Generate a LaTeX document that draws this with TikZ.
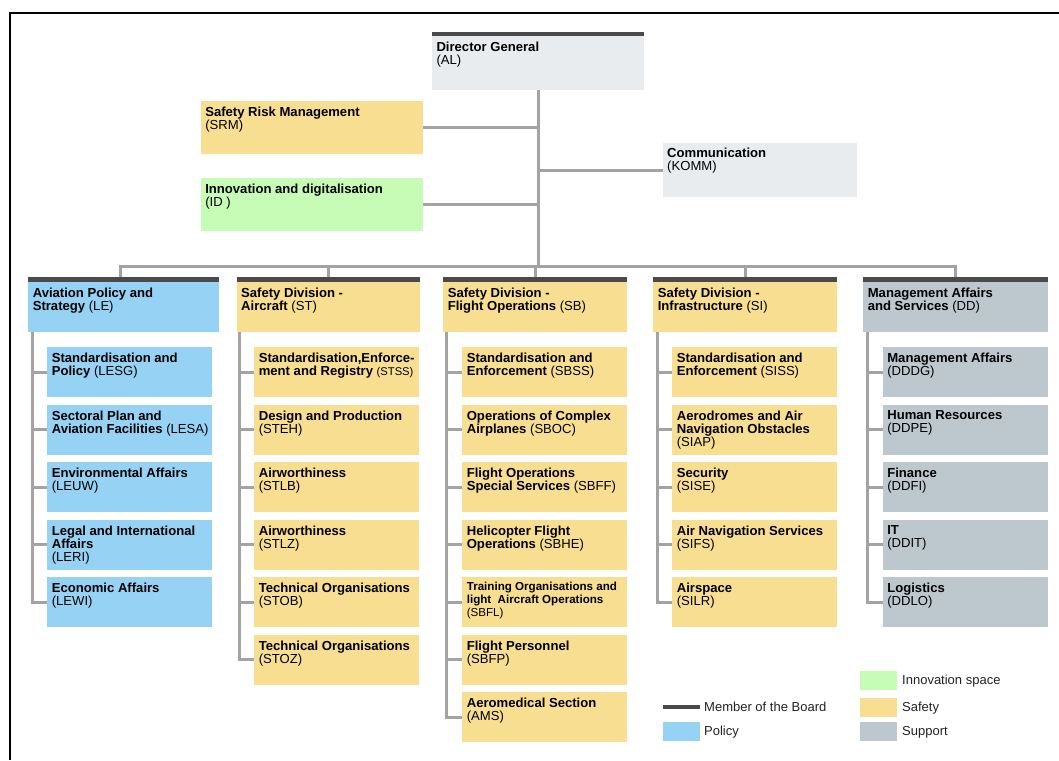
\documentclass[tikz,border=0pt]{standalone}
\usepackage{fontspec}
\setmainfont{Liberation Sans}
\definecolor{pol}{HTML}{95D2F3}
\definecolor{saf}{HTML}{F8DE90}
\definecolor{inn}{HTML}{C6FCB6}
\definecolor{sup}{HTML}{BDC8CE}
\definecolor{lgr}{HTML}{E9ECEF}
\definecolor{barc}{HTML}{4A4A4A}
\definecolor{conc}{HTML}{A3A3A3}
\definecolor{legt}{HTML}{222222}
\newcommand\fs{\fontsize{13.1}{13.2}\selectfont}
\newcommand\fsm{\fontsize{11.6}{13}\selectfont}
\newcommand\bxt[4]{\parbox[t][#2pt][t]{#1pt}{\raggedright\leftskip=4.5pt\vspace*{#3pt}#4}}
\tikzset{
  box/.style={anchor=north west, inner sep=0pt, outer sep=0pt, font=\fs},
  conn/.style={draw=conc, line width=3pt},
  swatch/.style={anchor=north west, inner sep=0pt, outer sep=0pt, minimum width=37pt, minimum height=19pt},
  legtext/.style={anchor=west, inner sep=0pt, font=\fontsize{13}{15}\selectfont, text=legt},
}
\newcommand\child[5]{\node[box,fill=#1] (#2) at (#3,#4) {\bxt{165}{50}{5.8}{#5}};}
\newcommand\head[5]{\node[box,fill=#1] (#2) at (#3,277.3) {\bxt{#4}{55}{11}{#5}};
  \fill[barc] (#2.north west) rectangle ([yshift=-5pt]#2.north east);}
\begin{document}
\begin{tikzpicture}[x=1pt,y=-1pt]
\useasboundingbox (0,0) rectangle (1059,760);
\draw[line width=2.3pt] (10,760) -- (10,13.3) -- (1058.5,13.3);

% top level
\node[box,fill=lgr] (dg) at (432,31.7) {\bxt{212}{58.3}{10}{\textbf{Director General}\\(AL)}};
\fill[barc] (dg.north west) rectangle ([yshift=-4.5pt]dg.north east);
\node[box,fill=saf] (srm) at (200.8,100.7) {\bxt{222.2}{53.3}{6.5}{\textbf{Safety Risk Management}\\(SRM)}};
\node[box,fill=inn] (id) at (200.8,177.7) {\bxt{222.2}{53}{6.5}{\textbf{Innovation and digitalisation}\\(ID )}};
\node[box,fill=lgr] (komm) at (662.7,143.3) {\bxt{193.8}{53.4}{5}{\textbf{Communication}\\(KOMM)}};

% headers
\head{pol}{le}{28.3}{191}{\textbf{Aviation Policy and}\\\textbf{Strategy} (LE)}
\head{saf}{st}{236.7}{183.3}{\textbf{Safety Division -}\\\textbf{Aircraft} (ST)}
\head{saf}{sb}{443.3}{183.4}{\textbf{Safety Division -}\\\textbf{Flight Operations} (SB)}
\head{saf}{si}{653.3}{183.4}{\textbf{Safety Division -}\\\textbf{Infrastructure} (SI)}
\head{sup}{dd}{863.3}{184.4}{\textbf{Management Affairs}\\\textbf{and Services} (DD)}

% LE children
\child{pol}{lesg}{47.3}{347.3}{\textbf{Standardisation and}\\\textbf{Policy} (LESG)}
\child{pol}{lesa}{47.3}{404.8}{\textbf{Sectoral Plan and}\\\textbf{Aviation Facilities} (LESA)}
\child{pol}{leuw}{47.3}{462.3}{\textbf{Environmental Affairs}\\(LEUW)}
\child{pol}{leri}{47.3}{519.8}{\textbf{Legal and International}\\\textbf{Affairs}\\(LERI)}
\child{pol}{lewi}{47.3}{577.3}{\textbf{Economic Affairs}\\(LEWI)}

% ST children
\child{saf}{stss}{254.3}{347.3}{\textbf{Standardisation,Enforce-}\\\textbf{ment and Registry} {\fontsize{11.2}{13}\selectfont(STSS)}}
\child{saf}{steh}{254.3}{404.8}{\textbf{Design and Production}\\(STEH)}
\child{saf}{stlb}{254.3}{462.3}{\textbf{Airworthiness}\\(STLB)}
\child{saf}{stlz}{254.3}{519.8}{\textbf{Airworthiness}\\(STLZ)}
\child{saf}{stob}{254.3}{577.3}{\textbf{Technical Organisations}\\(STOB)}
\child{saf}{stoz}{254.3}{634.8}{\textbf{Technical Organisations}\\(STOZ)}

% SB children
\child{saf}{sbss}{462.3}{347.3}{\textbf{Standardisation and}\\\textbf{Enforcement} (SBSS)}
\child{saf}{sboc}{462.3}{404.8}{\textbf{Operations of Complex}\\\textbf{Airplanes} (SBOC)}
\child{saf}{sbff}{462.3}{462.3}{\textbf{Flight Operations}\\\textbf{Special Services} (SBFF)}
\child{saf}{sbhe}{462.3}{519.8}{\textbf{Helicopter Flight}\\\textbf{Operations} (SBHE)}
\node[box,fill=saf] (sbfl) at (462.3,577.3) {\bxt{165}{50}{4.5}{\fsm\textbf{Training Organisations and}\\\textbf{light\ \ Aircraft Operations}\\(SBFL)}};
\child{saf}{sbfp}{462.3}{634.8}{\textbf{Flight Personnel}\\(SBFP)}
\child{saf}{ams}{462.3}{692.3}{\textbf{Aeromedical Section}\\(AMS)}

% SI children
\child{saf}{siss}{672.3}{347.3}{\textbf{Standardisation and}\\\textbf{Enforcement} (SISS)}
\child{saf}{siap}{672.3}{404.8}{\textbf{Aerodromes and Air}\\\textbf{Navigation Obstacles}\\(SIAP)}
\child{saf}{sise}{672.3}{462.3}{\textbf{Security}\\(SISE)}
\child{saf}{sifs}{672.3}{519.8}{\textbf{Air Navigation Services}\\(SIFS)}
\child{saf}{silr}{672.3}{577.3}{\textbf{Airspace}\\(SILR)}

% DD children
\child{sup}{dddg}{882.8}{347.3}{\textbf{Management Affairs}\\(DDDG)}
\child{sup}{ddpe}{882.8}{404.8}{\textbf{Human Resources}\\(DDPE)}
\child{sup}{ddfi}{882.8}{462.3}{\textbf{Finance}\\(DDFI)}
\child{sup}{ddit}{882.8}{519.8}{\textbf{IT}\\(DDIT)}
\child{sup}{ddlo}{882.8}{577.3}{\textbf{Logistics}\\(DDLO)}

% connectors
\coordinate (bus) at (538,266);
\draw[conn] (dg.south) -- (bus);
\draw[conn] (srm.east) -- (srm.east -| dg.south);
\draw[conn] (id.east) -- (id.east -| dg.south);
\draw[conn] (komm.west) -- (komm.west -| dg.south);
\draw[conn] ([xshift=-3.8pt]le.north) |- (bus) -| (dd.north);
\draw[conn] (st.north) -- (st.north |- bus);
\draw[conn] (sb.north) -- (sb.north |- bus);
\draw[conn] (si.north) -- (si.north |- bus);
\foreach \c in {lesg,lesa,leuw,leri,lewi} \draw[conn] ([xshift=4pt]le.south west) |- (\c.west);
\foreach \c in {stss,steh,stlb,stlz,stob,stoz} \draw[conn] ([xshift=2.8pt]st.south west) |- (\c.west);
\foreach \c in {sbss,sboc,sbff,sbhe,sbfl,sbfp,ams} \draw[conn] ([xshift=3.4pt]sb.south west) |- (\c.west);
\foreach \c in {siss,siap,sise,sifs,silr} \draw[conn] ([xshift=4pt]si.south west) |- (\c.west);
\foreach \c in {dddg,ddpe,ddfi,ddit,ddlo} \draw[conn] ([xshift=4.4pt]dd.south west) |- (\c.west);

% legend
\coordinate (lb0) at (663,706.5);
\coordinate (lb1) at (700,706.5);
\draw[barc, line width=4pt] (lb0) -- (lb1);
\node[legtext] (lbt) at (704,706.8) {Member of the Board};
\node[swatch, fill=pol] (lpol) at (663,722) {};
\node[legtext] (lpolt) at ([xshift=4pt,yshift=-0.5pt]lpol.east) {Policy};
\node[swatch, fill=inn] (linn) at (860,670.8) {};
\node[legtext] (linnt) at ([xshift=5pt,yshift=-1pt]linn.east) {Innovation space};
\node[swatch, fill=sup] (lsup) at (860,722.3) {};
\node[swatch, fill=saf] (lsaf) at (860,697.5) {};
\node[legtext] (lsaft) at ([xshift=5pt,yshift=-1pt]lsaf.east) {Safety};
\node[legtext] (lsupt) at ([xshift=5pt,yshift=-0.5pt]lsup.east) {Support};
\end{tikzpicture}
\end{document}
